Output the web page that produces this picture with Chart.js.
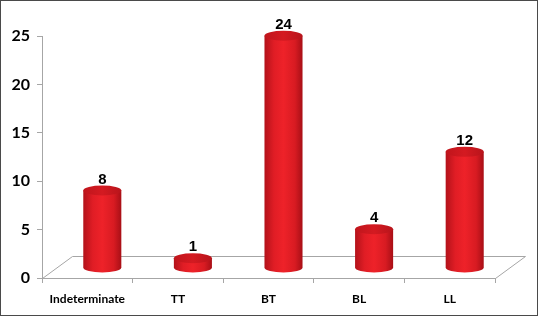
<!DOCTYPE html>
<html><head><meta charset="utf-8">
<script src="https://cdn.jsdelivr.net/npm/chart.js@4/dist/chart.umd.min.js"></script>
<style>html,body{margin:0;padding:0;background:#fff;}#wrap{width:538px;height:316px;position:relative;}</style>
</head><body><div id="wrap"><canvas id="c" width="538" height="316"></canvas></div>
<script>
const categories = ["Indeterminate", "TT", "BT", "BL", "LL"];
const counts = [8, 1, 24, 4, 12];
const yTicks = [0, 5, 10, 15, 20, 25];

const DX = 15, DY = -10, DEPTH_X = 30, DEPTH_Y = -22, RY = 5;

const floorPlugin = {
  id: 'floor',
  beforeDatasetsDraw(chart) {
    const ctx = chart.ctx, a = chart.chartArea, y0 = chart.scales.y.getPixelForValue(0);
    ctx.save();
    ctx.strokeStyle = '#a6a6a6'; ctx.lineWidth = 1;
    ctx.beginPath();
    ctx.moveTo(a.left + 0.5, y0 + 0.5);
    ctx.lineTo(a.left + DEPTH_X + 0.5, y0 + DEPTH_Y + 0.5);
    ctx.lineTo(a.right + DEPTH_X + 0.5, y0 + DEPTH_Y + 0.5);
    ctx.lineTo(a.right + 0.5, y0 + 0.5);
    ctx.stroke();
    ctx.restore();
  },
  afterDatasetsDraw(chart) {
    const ctx = chart.ctx;
    const meta = chart.getDatasetMeta(0);
    meta.data.forEach((el, i) => {
      const p = el.getProps(['x', 'y', 'base', 'width'], true);
      const cx = p.x + DX, top = p.y + DY, bot = p.base + DY, rx = p.width / 2;
      const g = ctx.createLinearGradient(cx - rx, 0, cx + rx, 0);
      g.addColorStop(0, '#b3121a');
      g.addColorStop(0.25, '#e01d25');
      g.addColorStop(0.5, '#ee2229');
      g.addColorStop(0.8, '#d81b22');
      g.addColorStop(1, '#a80f16');
      ctx.save();
      ctx.fillStyle = g;
      ctx.beginPath();
      ctx.moveTo(cx - rx, top);
      ctx.lineTo(cx - rx, bot);
      ctx.ellipse(cx, bot, rx, RY, 0, Math.PI, 0, true);
      ctx.lineTo(cx + rx, top);
      ctx.closePath();
      ctx.fill();
      const tg = ctx.createLinearGradient(cx - rx, 0, cx + rx, 0);
      tg.addColorStop(0, '#c0151c');
      tg.addColorStop(0.5, '#d41a21');
      tg.addColorStop(1, '#b8141b');
      ctx.fillStyle = tg;
      ctx.beginPath();
      ctx.ellipse(cx, top, rx, RY, 0, 0, Math.PI * 2);
      ctx.fill();
      ctx.fillStyle = '#000';
      ctx.font = 'bold 15px "Liberation Sans", Arial, sans-serif';
      ctx.textAlign = 'center';
      ctx.textBaseline = 'alphabetic';
      ctx.fillText(String(counts[i]), cx, top - RY - 2);
      ctx.restore();
    });
  },
  afterDraw(chart) {
    const ctx = chart.ctx;
    ctx.save();
    ctx.strokeStyle = '#4a4a4a'; ctx.lineWidth = 1;
    ctx.strokeRect(0.5, 0.5, chart.width - 1, chart.height - 1);
    ctx.restore();
  }
};

new Chart(document.getElementById('c'), {
  type: 'bar',
  data: {
    labels: categories,
    datasets: [{ data: counts, backgroundColor: 'rgba(0,0,0,0)', borderWidth: 0,
      categoryPercentage: 1, barPercentage: 0.42 }]
  },
  options: {
    responsive: false, animation: false,
    layout: { padding: { top: 36, right: 43, bottom: 0, left: 0 } },
    plugins: { legend: { display: false }, tooltip: { enabled: false } },
    scales: {
      x: {
        grid: { display: true, drawOnChartArea: false, drawTicks: true, tickLength: 5, color: '#a6a6a6', offset: true },
        border: { display: true, color: '#a6a6a6' },
        ticks: { color: '#000', padding: 9, font: { family: 'Lato', weight: 'bold', size: 12 } },
        afterFit(s) { s.height = 38; }
      },
      y: {
        min: 0, max: 25,
        afterBuildTicks(s) { s.ticks = yTicks.map(v => ({ value: v })); },
        grid: { display: true, drawOnChartArea: false, drawTicks: true, tickLength: 5, color: '#a6a6a6' },
        border: { display: true, color: '#a6a6a6' },
        ticks: { color: '#000', padding: 7, font: { family: 'Lato', weight: 'bold', size: 16 } },
        afterFit(s) { s.width = 42; }
      }
    }
  },
  plugins: [floorPlugin]
});
</script></body></html>
